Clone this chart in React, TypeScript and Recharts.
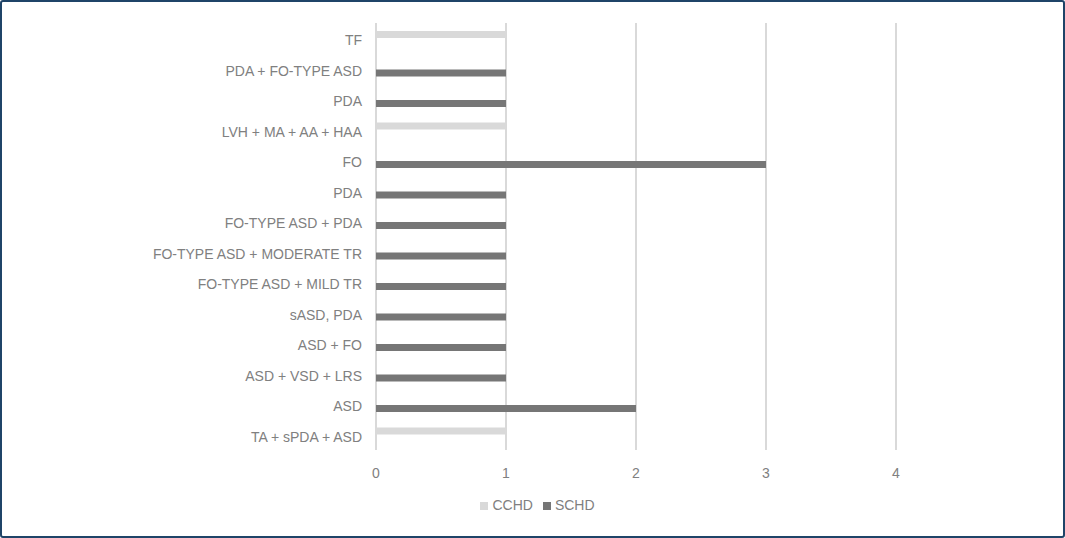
import React from 'react';
import { BarChart, Bar, XAxis, YAxis, CartesianGrid, Legend } from 'recharts';

// categories top to bottom, as in the figure
const categories = [
  'TF',
  'PDA + FO-TYPE ASD',
  'PDA',
  'LVH + MA + AA + HAA',
  'FO',
  'PDA',
  'FO-TYPE ASD + PDA ',
  'FO-TYPE ASD + MODERATE TR',
  'FO-TYPE ASD + MILD TR',
  'sASD, PDA',
  'ASD + FO',
  'ASD + VSD + LRS',
  'ASD',
  'TA + sPDA + ASD',
];
const cchd = [1, null, null, 1, null, null, null, null, null, null, null, null, null, 1];
const schd = [null, 1, 1, null, 3, 1, 1, 1, 1, 1, 1, 1, 2, null];
const xTicks = [0, 1, 2, 3, 4];

const data = categories.map((name, i) => ({ name, CCHD: cchd[i], SCHD: schd[i] }));

const FONT = '"Liberation Sans", Arial, sans-serif';
const TEXT = '#808080';

export default function App() {
  return (
    <div
      style={{
        position: 'fixed',
        left: 0,
        top: 0,
        width: 1065,
        height: 538,
        boxSizing: 'border-box',
        border: '2px solid #1f4468',
        borderRadius: 3,
        background: '#fff',
        fontFamily: FONT,
      }}
    >
      <div style={{ position: 'absolute', left: -2, top: -2 }}>
        <BarChart
          width={1065}
          height={538}
          data={data}
          layout="vertical"
          barSize={7}
          barGap={1}
          margin={{ top: 23, right: 169, left: 0, bottom: 20 }}
        >
          <CartesianGrid horizontal={false} stroke="#d9d9d9" strokeWidth={2} />
          <XAxis
            type="number"
            domain={[0, 4]}
            ticks={xTicks}
            axisLine={false}
            tickLine={false}
            tickMargin={12}
            height={50}
            tick={{ fill: TEXT, fontSize: 14, fontFamily: FONT }}
          />
          <YAxis
            type="category"
            dataKey="name"
            width={376}
            axisLine={false}
            tickLine={false}
            tickMargin={8}
            interval={0}
            tick={{ fill: TEXT, fontSize: 14, fontFamily: FONT, dy: 2 }}
          />
          <Legend
            verticalAlign="bottom"
            align="center"
            iconType="square"
            iconSize={8}
            wrapperStyle={{ left: 0, width: 1085, bottom: 24 }}
            formatter={(v) => <span style={{ color: TEXT, fontSize: 14 }}>{v}</span>}
          />
          <Bar dataKey="CCHD" fill="#d9d9d9" isAnimationActive={false} />
          <Bar dataKey="SCHD" fill="#767676" isAnimationActive={false} />
        </BarChart>
      </div>
    </div>
  );
}
